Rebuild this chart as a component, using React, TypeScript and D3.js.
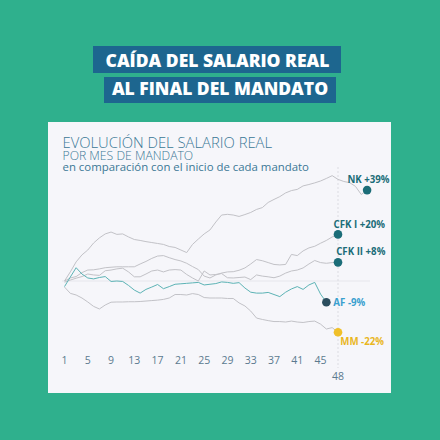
import React from "react";
import * as d3 from "d3";

const nk = [0, 3.9, 8.2, 11.2, 13.3, 16.3, 18.5, 20.2, 21.0, 20.0, 20.2, 18.9, 17.8, 17.4, 16.9, 16.5, 16.1, 15.7, 14.8, 14.4, 13.3, 12.2, 15.7, 18.0, 20.2, 21.9, 25.3, 28.3, 28.6, 28.3, 27.7, 28.5, 29.4, 30.7, 31.5, 33.7, 35.0, 36.2, 37.8, 38.8, 39.3, 40.8, 41.4, 42.1, 42.9, 44.0, 45.2, 43.6, 42.7, 42.2, 40.6, 37.1, 39];
const cfk1 = [0, 1.3, 1.9, 3.6, 4.7, 4.8, 5.2, 5.7, 5.9, 6.1, 6.1, 6.1, 6.1, 7.3, 8.4, 9.7, 10.7, 10.9, 10.0, 9.2, 8.6, 7.6, 6.2, 4.9, 2.1, 1.3, 2.6, 3.4, 3.9, 4.0, 4.6, 5.6, 7.3, 9.2, 8.7, 7.9, 7.1, 6.9, 7.1, 11.4, 10.9, 12.9, 14.2, 14.9, 16.2, 17.4, 18.9, 20];
const cfk2 = [-0.5, 0.4, 1.2, 1.9, 3.0, 2.6, 2.4, 4.4, 4.7, 5.2, 5.5, 3.9, 1.8, 1.8, 3.0, 4.3, 4.7, 3.9, 4.7, 4.9, 4.7, 2.8, 1.3, 0, 4.3, 2.6, 2.8, 3.2, 1.4, 1.3, 1.5, 1.7, 0.6, 2.6, 2.1, 1.8, 1.4, 2.1, 3.4, 4.3, 4.7, 5.6, 7.3, 8.8, 7.9, 7.6, 7.9, 8];
const mm = [-2.6, -5.3, -6.0, -7.3, -9.0, -10.9, -12.0, -10.3, -9.1, -9.0, -9.0, -8.9, -8.9, -8.8, -8.6, -8.4, -8.2, -7.9, -7.3, -5.8, -5.8, -6.0, -5.4, -5.8, -7.1, -7.3, -7.3, -7.3, -7.5, -7.5, -9.4, -10.7, -12.9, -15.9, -16.5, -17.0, -17.4, -17.4, -17.6, -17.2, -17.6, -17.8, -17.4, -17.2, -18.5, -20.6, -20.0, -22];
const af = [-2.4, 1.7, 5.7, 3.0, 1.3, 0.9, 1.5, 1.9, -0.2, 0, -0.2, -1.9, -3.9, -5.2, -3.6, -2.6, -1.5, -3.3, -2.4, -1.4, -1.2, -1.0, -0.8, -0.6, -1.7, -1.4, -1.1, -0.4, -0.6, -1.0, -0.7, -3.0, -4.8, -5.2, -5.2, -4.9, -5.8, -6.7, -4.8, -3.4, -2.4, -3.6, -1.7, -0.6, -5.6, -9.1];

const tickMonths = [1, 5, 9, 13, 17, 21, 25, 29, 33, 37, 41, 45];
const endMonth = 48;

const series = [
  { name: "NK", values: nk, label: "NK +39%" },
  { name: "CFK I", values: cfk1, label: "CFK I +20%" },
  { name: "CFK II", values: cfk2, label: "CFK II +8%" },
  { name: "MM", values: mm, label: "MM -22%" },
  { name: "AF", values: af, label: "AF -9%" },
];

const x = d3.scaleLinear().domain([1, 48]).range([64.5, 338]);
const y = d3.scaleLinear().domain([0, 39]).range([281, 190.1]);

const line = d3
  .line<number>()
  .x((_, i) => x(i + 1))
  .y((d) => y(d));

const GRAY = "#c2c2c7";
const TEAL = "#5cb3b5";
const DOT = "#1b6d78";

const labelStyle: Record<string, { color: string; dot: string; dx: number; dy: number; anchor: string }> = {
  NK: { color: "#1b6d78", dot: DOT, dx: 22.5, dy: -7.5, anchor: "end" },
  "CFK I": { color: "#1b6d78", dot: DOT, dx: -4.5, dy: -6.7, anchor: "start" },
  "CFK II": { color: "#1b6d78", dot: DOT, dx: -1.8, dy: -7.3, anchor: "start" },
  AF: { color: "#3aa0cf", dot: "#2b4d5e", dx: 7, dy: 3.5, anchor: "start" },
  MM: { color: "#e9b61f", dot: "#f0c02a", dx: 2.3, dy: 12.5, anchor: "start" },
};

export default function App() {
  return (
    <svg
      width={440}
      height={440}
      style={{ position: "absolute", left: 0, top: 0 }}
      fontFamily="'Open Sans', sans-serif"
    >
      <rect x={0} y={0} width={440} height={440} fill="#2fb08d" />
      {/* headline boxes */}
      <rect x={93} y={46} width={248} height={27} fill="#1d668f" />
      <rect x={104} y={77} width={232} height={26} fill="#1d668f" />
      <text x={217.5} y={67} textAnchor="middle" fill="#ffffff" fontSize={17.5} fontWeight={800}>
        CAÍDA DEL SALARIO REAL
      </text>
      <text x={220} y={95} textAnchor="middle" fill="#ffffff" fontSize={17.5} fontWeight={800}>
        AL FINAL DEL MANDATO
      </text>

      {/* panel */}
      <rect x={48} y={122} width={343} height={271} fill="#f6f6fa" />
      <text x={62.5} y={147.8} fill="#3b7896" fontSize={14.8} fontWeight={300}>
        EVOLUCIÓN DEL SALARIO REAL
      </text>
      <text x={62.5} y={159.8} fill="#3b7896" fontSize={12.2} fontWeight={300}>
        POR MES DE MANDATO
      </text>
      <text x={62.5} y={171.4} fill="#3b7896" fontSize={11.4} fontWeight={400}>
        en comparación con el inicio de cada mandato
      </text>

      {/* zero line */}
      <line x1={62} x2={370} y1={y(0)} y2={y(0)} stroke="#e6e6ec" strokeWidth={1} />
      {/* end-of-mandate line */}
      <line
        x1={x(endMonth)}
        x2={x(endMonth)}
        y1={167}
        y2={368}
        stroke="#dcdce2"
        strokeWidth={1}
        strokeDasharray="2,2"
      />

      {/* series lines */}
      {series
        .filter((s) => s.name !== "AF")
        .map((s) => (
          <path key={s.name} d={line(s.values) || ""} fill="none" stroke={GRAY} strokeWidth={1} />
        ))}
      <path d={line(af) || ""} fill="none" stroke={TEAL} strokeWidth={1} />

      {/* end dots and labels */}
      {series.map((s) => {
        const i = s.values.length - 1;
        const cx = x(i + 1);
        const cy = y(s.values[i]);
        const st = labelStyle[s.name];
        return (
          <g key={s.name + "-end"}>
            <circle cx={cx} cy={cy} r={4.3} fill={st.dot} />
            <text
              x={cx + st.dx}
              y={cy + st.dy}
              fill={st.color}
              fontSize={9.7}
              fontWeight={700}
              textAnchor={st.anchor}
            >
              {s.label}
            </text>
          </g>
        );
      })}

      {/* x axis labels */}
      {tickMonths.map((m) => (
        <text key={m} x={x(m)} y={363.5} textAnchor="middle" fill="#5b7a8f" fontSize={10.5}>
          {m}
        </text>
      ))}
      <text x={x(endMonth)} y={379.5} textAnchor="middle" fill="#5b7a8f" fontSize={10.5}>
        {endMonth}
      </text>
    </svg>
  );
}
